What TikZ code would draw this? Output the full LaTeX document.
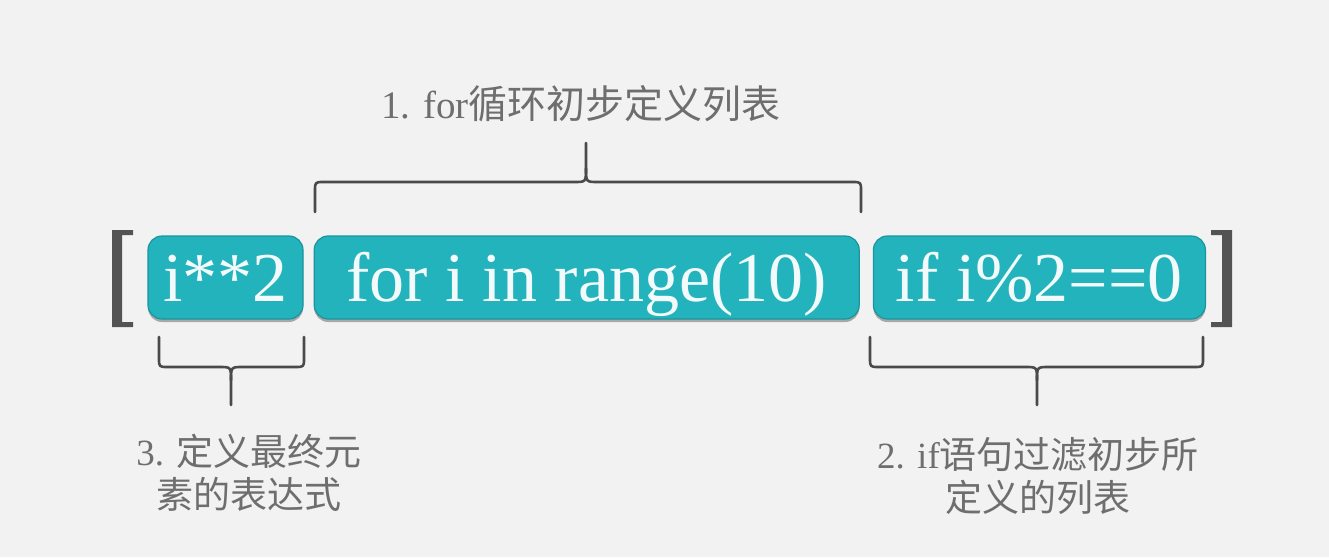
\documentclass[tikz,border=0pt]{standalone}
\usepackage{fontspec}
\setmainfont{Liberation Serif}
\newfontfamily\cjk{Noto Sans CJK SC}
\usetikzlibrary{positioning,calc,shadows}
\definecolor{Teal}{HTML}{23B3BC}
\definecolor{TealEdge}{HTML}{1A959D}
\definecolor{Label}{HTML}{6E6E6E}
\definecolor{Brace}{HTML}{4A4A4A}
\definecolor{Paper}{HTML}{F2F2F2}

\tikzset{
    part/.style={rounded corners=14pt, fill=Teal, draw=TealEdge, line width=1.2pt,
        drop shadow={shadow xshift=0pt, shadow yshift=-3pt, fill=black, opacity=.3},
        text=white!94!Teal, minimum height=83pt, inner sep=0pt, text height=47pt, text depth=0pt,
        font=\fontsize{70}{70}\selectfont},
    brace line/.style={draw=Brace, line width=2.6pt, line join=round, line cap=round},
    note/.style={text=Label, align=center, font=\fontsize{37}{43}\selectfont}
}

% curly brace: left x, right x, tip x, end y, bar y, tip y
\newcommand\curly[6]{%
    \draw[brace line] (#1,#4) -- (#1,{#5+0.3*(#4-#5)}) .. controls (#1,#5) .. ({#1+9},#5)
        -- ({#3-12},#5) .. controls (#3,#5) .. (#3,{#5+0.35*(#6-#5)}) -- (#3,#6);
    \draw[brace line] (#2,#4) -- (#2,{#5+0.3*(#4-#5)}) .. controls (#2,#5) .. ({#2-9},#5)
        -- ({#3+12},#5) .. controls (#3,#5) .. (#3,{#5+0.35*(#6-#5)});
}

\begin{document}
\begin{tikzpicture}[x=1pt,y=-1pt]
    \fill[Paper] (0,0) rectangle (1329,557);

    % the three parts of the comprehension
    \node[part, minimum width=155pt] (square) at (225.5,277.5) {i**2};
    \node[part, minimum width=545pt, right=10pt of square] (loop) {for i in range(10)};
    \node[part, minimum width=332pt, right=13pt of loop] (cond) {if i\%2==0};

    % list brackets
    \fill[Brace!95] (112,230) -- (133,230) -- (133,235) -- (122,235) -- (122,322)
        -- (133,322) -- (133,327) -- (112,327) -- cycle;
    \fill[Brace!95] (1232,230) -- (1211,230) -- (1211,235) -- (1222,235) -- (1222,322)
        -- (1211,322) -- (1211,327) -- (1232,327) -- cycle;

    % braces
    \curly{315}{861}{586}{212}{182}{143}
    \curly{159}{304}{231}{337}{367}{405}
    \curly{870}{1203}{1037}{337}{367}{405}

    % notes
    \node[note, font=\fontsize{39}{45}\selectfont] (step1) at (581,104) {1. for{\cjk 循环初步定义列表}};
    \node[note] (step3) at (249,473) {3. {\cjk 定义最终元}\\{\cjk 素的表达式}};
    \node[note] (step2) at (1038,476) {2. if{\cjk 语句过滤初步所}\\{\cjk 定义的列表}};
\end{tikzpicture}
\end{document}
